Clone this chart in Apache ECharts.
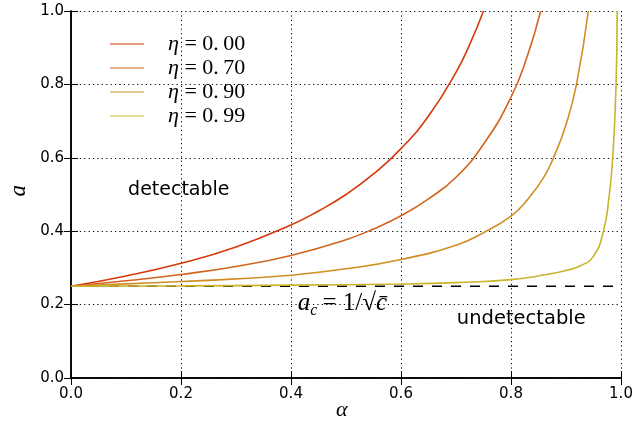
<!DOCTYPE html>
<html>
<head>
<meta charset="utf-8">
<script src="https://cdn.jsdelivr.net/npm/echarts@6/dist/echarts.min.js"></script>
<style>
  html, body { margin: 0; padding: 0; background: #fff; }
  #chart { width: 634px; height: 424px; }
</style>
</head>
<body>
<div id="chart"></div>
<script>
// Detectability threshold a(alpha) for several correlation levels eta
const etaLabels = ['0.00', '0.70', '0.90', '0.99'];

const alpha00 = [0, 0.1, 0.2, 0.3, 0.4, 0.45, 0.5, 0.55, 0.6, 0.65, 0.7, 0.725, 0.75];
const a00     = [0.25, 0.278, 0.3125, 0.357, 0.417, 0.455, 0.50, 0.556, 0.625, 0.714, 0.833, 0.909, 1.0];

const alpha70 = [0, 0.1, 0.2, 0.3, 0.4, 0.5, 0.55, 0.6, 0.65, 0.7, 0.75, 0.8, 0.83, 0.854];
const a70     = [0.25, 0.265, 0.282, 0.304, 0.334, 0.377, 0.406, 0.442, 0.488, 0.547, 0.637, 0.765, 0.879, 1.0];

const alpha90 = [0, 0.1, 0.2, 0.3, 0.4, 0.5, 0.6, 0.7, 0.75, 0.8, 0.83, 0.86, 0.88, 0.9, 0.919, 0.9406];
const a90     = [0.25, 0.2565, 0.263, 0.270, 0.280, 0.2975, 0.323, 0.362, 0.396, 0.441, 0.486, 0.548, 0.61, 0.69, 0.80, 1.0];

const alpha99 = [0, 0.2, 0.4, 0.6, 0.7, 0.8, 0.865, 0.9, 0.925, 0.95, 0.968, 0.978, 0.985, 0.991, 0.993];
const a99     = [0.25, 0.251, 0.253, 0.256, 0.260, 0.268, 0.282, 0.293, 0.305, 0.332, 0.40, 0.49, 0.60, 0.80, 1.0];

// critical value a_c
const aCritical = 0.25;
const criticalSpan = [0, 1];

const xTicks = { min: 0, max: 1, step: 0.2 };
const yTicks = { min: 0, max: 1, step: 0.2 };

const lineColors = ['#d6380a', '#d2641f', '#d08f25', '#c9b42c'];

function pairs(xs, ys) { return xs.map((x, i) => [x, ys[i]]); }

const curves = [
  pairs(alpha00, a00),
  pairs(alpha70, a70),
  pairs(alpha90, a90),
  pairs(alpha99, a99)
];

const mathFont = '"Liberation Serif", "DejaVu Serif", serif';
const sansFont = '"DejaVu Sans", sans-serif';

const chart = echarts.init(document.getElementById('chart'), null, { renderer: 'canvas' });

const axisBase = {
  type: 'value',
  axisLine: { show: true, lineStyle: { color: '#000', width: 1.5 } },
  axisTick: { show: true, inside: true, length: 7, lineStyle: { color: '#000', width: 1 } },
  splitLine: { show: false },
  axisLabel: { show: false }
};

const series = [];

// dashed critical line plus the region annotations
series.push({
  name: 'critical',
  type: 'line',
  data: criticalSpan.map(x => [x, aCritical]),
  symbol: 'none',
  silent: true,
  z: 1,
  lineStyle: { color: '#000', width: 1.6, type: [10, 9] },
  markPoint: {
    symbol: 'circle',
    symbolSize: 0,
    silent: true,
    data: [
      {
        coord: [0.196, 0.511],
        label: { show: true, position: 'inside', formatter: 'detectable',
                 fontFamily: sansFont, fontSize: 19, color: '#000' }
      },
      {
        coord: [0.8187, 0.160],
        label: { show: true, position: 'inside', formatter: 'undetectable',
                 fontFamily: sansFont, fontSize: 19.5, color: '#000' }
      },
      {
        coord: [0.4936, 0.2035],
        label: {
          show: true, position: 'inside',
          formatter: '{i|a}{sub|c}{n|= 1/√}{i|c̄}',
          color: '#000',
          rich: {
            i: { fontFamily: mathFont, fontStyle: 'italic', fontSize: 25, color: '#000' },
            sub: { fontFamily: mathFont, fontStyle: 'italic', fontSize: 16, color: '#000', padding: [15, 5, 0, 0] },
            n: { fontFamily: mathFont, fontSize: 25, color: '#000' }
          }
        }
      }
    ]
  }
});

curves.forEach((pts, k) => {
  series.push({
    name: 'η = ' + etaLabels[k],
    type: 'line',
    data: pts,
    symbol: 'none',
    smooth: 0.5,
    z: 2,
    lineStyle: { color: lineColors[k], width: 1.6 },
    itemStyle: { color: lineColors[k] }
  });
});

const option = {
  animation: false,
  backgroundColor: '#fff',
  grid: { left: 71, right: 13, top: 11, bottom: 46, containLabel: false, outerBoundsMode: 'none' },
  // axis titles
  graphic: [
    {
      type: 'text', left: 336, top: 399, silent: true,
      style: { text: 'α', fontFamily: mathFont, fontStyle: 'italic', fontSize: 22, fill: '#000' }
    },
    {
      type: 'text', left: 7, top: 185, rotation: Math.PI / 2, silent: true,
      style: { text: 'a', fontFamily: mathFont, fontStyle: 'italic', fontSize: 23, fill: '#000' }
    }
  ],
  legend: {
    orient: 'vertical',
    left: 110,
    top: 33,
    padding: 0,
    data: curves.map((_, k) => 'η = ' + etaLabels[k]),
    itemWidth: 34,
    itemHeight: 22,
    itemGap: 2,
    icon: 'path://M0,0 L34,0 L34,1 L0,1 Z',
    selectedMode: false,
    formatter: name => '{i|η}{n| = ' + name.split('= ')[1].replace('.', '.\u2009') + '}',
    textStyle: {
      padding: [0, 0, 0, 19],
      rich: {
        i: { fontFamily: mathFont, fontStyle: 'italic', fontSize: 22, lineHeight: 22, color: '#000' },
        n: { fontFamily: mathFont, fontSize: 22, lineHeight: 22, color: '#000' }
      }
    }
  },
  xAxis: [
    Object.assign({}, axisBase, {
      position: 'bottom',
      min: xTicks.min, max: xTicks.max, interval: xTicks.step,
      axisLabel: { show: true, margin: 9, fontFamily: sansFont, fontSize: 15, color: '#000',
                   formatter: v => v.toFixed(1) },
      splitLine: { show: true, lineStyle: { color: '#000', width: 1, type: [1.2, 3.2] } }
    }),
    Object.assign({}, axisBase, {
      position: 'top',
      min: xTicks.min, max: xTicks.max, interval: xTicks.step
    })
  ],
  yAxis: [
    Object.assign({}, axisBase, {
      position: 'left',
      min: yTicks.min, max: yTicks.max, interval: yTicks.step,
      axisLabel: { show: true, margin: 7, fontFamily: sansFont, fontSize: 15, color: '#000',
                   formatter: v => v.toFixed(1) },
      splitLine: { show: true, lineStyle: { color: '#000', width: 1, type: [1.2, 3.2] } }
    }),
    Object.assign({}, axisBase, {
      position: 'right',
      min: yTicks.min, max: yTicks.max, interval: yTicks.step
    })
  ],
  series: series
};

chart.setOption(option);
</script>
</body>
</html>
